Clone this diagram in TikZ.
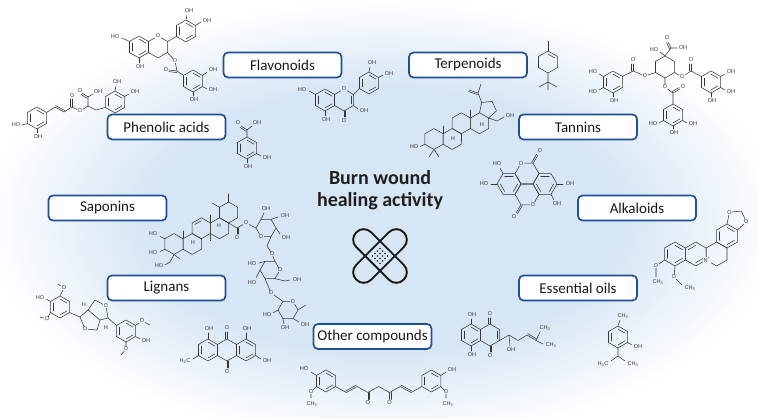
\documentclass[tikz,border=0pt]{standalone}
\usepackage{fontspec}
\setmainfont{Carlito}
\newfontfamily\chemfont{Liberation Sans}
\usetikzlibrary{positioning,calc}

\definecolor{bgblue}{RGB}{215,230,245}
\definecolor{boxblue}{RGB}{30,80,150}
\definecolor{molgray}{RGB}{55,55,55}
\colorlet{vbg}{white}
\pgfdeclareradialshading{bgglow}{\pgfpoint{0bp}{0bp}}{color(0bp)=(bgblue); color(15bp)=(bgblue); color(25bp)=(white); color(50bp)=(white)}

\tikzset{
  mol/.style={draw=molgray, line width=0.55pt, line join=round, line cap=round},
  atm/.style={font=\chemfont\fontsize{5.6}{6}\selectfont, text=molgray, inner sep=0.4pt},
  vatm/.style={atm, fill=vbg},
  cat/.style={draw=boxblue, line width=1.7pt, rounded corners=4.5pt, fill=white, minimum width=118pt, minimum height=25pt, inner sep=2pt, font=\fontsize{15}{17}\selectfont, text=black!90},
  band/.style={draw=black!90, line width=1.9pt, rounded corners=10.3pt},
}

\newcounter{atmno}
\newcommand\atm[3]{\stepcounter{atmno}\node[atm] (at\arabic{atmno}) at (#1,#2) {#3};}
\newcommand\vatm[3]{\stepcounter{atmno}\node[vatm] (at\arabic{atmno}) at (#1,#2) {#3};}
\newcommand\pring[3]{\draw[mol] ([shift={(#1,#2)}]90:#3) \foreach \q in {30,-30,-90,-150,150}{-- ([shift={(#1,#2)}]\q:#3)} -- cycle;}
\newcommand\fring[3]{\draw[mol] ([shift={(#1,#2)}]0:#3) \foreach \q in {60,120,180,240,300}{-- ([shift={(#1,#2)}]\q:#3)} -- cycle;}
\newcommand\parom[3]{\foreach \q in {90,210,330}{\draw[mol] ([shift={(#1,#2)}]\q:0.72*#3) -- ([shift={(#1,#2)}]\q-60:0.72*#3);}}
\newcommand\farom[3]{\foreach \q in {60,180,300}{\draw[mol] ([shift={(#1,#2)}]\q:0.72*#3) -- ([shift={(#1,#2)}]\q-60:0.72*#3);}}
\newcommand\dbond[4]{\draw[mol] (#1,#2) -- (#3,#4) ($(#1,#2)!1.6pt!90:(#3,#4)$) -- ($(#3,#4)!1.6pt!-90:(#1,#2)$);}

\begin{document}
\begin{tikzpicture}[x=1pt,y=-1pt]
\useasboundingbox (0,0) rectangle (758,419);
\shade[shading=bgglow] (383,220) ellipse [x radius=400, y radius=222];

% catechin gallate
\colorlet{vbg}{white}
\pring{139}{47}{11}\parom{139}{47}{11}
\pring{158}{47}{11}
\pring{186}{31}{11}\parom{186}{31}{11}
\pring{193}{81}{11}\parom{193}{81}{11}
\draw[mol] (129.5,41.5) -- (122,38);
\draw[mol] (139,58) -- (139,63);
\draw[mol] (167.5,41.5) -- (176.5,36.5);
\draw[mol] (186,20) -- (187,15);
\draw[mol] (195.5,25.5) -- (201,22);
\draw[mol] (167.5,52.5) -- (175,61) -- (177,71) -- (183.5,75.5);
\dbond{177}{71}{169}{70}
\draw[mol] (202.5,75.5) -- (207,72);
\draw[mol] (202.5,86.5) -- (207,89);
\draw[mol] (193,92) -- (193,96);
\vatm{158}{36}{O}\vatm{175}{61}{O}\atm{166}{70}{O}
\atm{115}{37}{HO}\atm{140}{67}{OH}\atm{189}{11}{OH}\atm{207}{21}{OH}
\atm{213}{70}{OH}\atm{213}{90}{OH}\atm{194}{100}{OH}

% rosmarinic acid
\pring{37}{118}{11}\parom{37}{118}{11}
\pring{115}{102}{11}\parom{115}{102}{11}
\draw[mol] (27.5,123.5) -- (22,125);
\draw[mol] (37,129) -- (37,133);
\draw[mol] (46.5,112.5) -- (55,107);
\dbond{55}{107}{64}{112}
\draw[mol] (64,112) -- (72,107) -- (80,111) -- (88,106) -- (96,110) -- (105.5,107.5);
\dbond{72}{107}{72}{99}
\draw[mol] (88,106) -- (88,97) -- (93,94);
\dbond{88}{97}{82}{93}
\draw[mol] (115,91) -- (116,86);
\draw[mol] (124.5,96.5) -- (129,94);
\vatm{80}{111}{O}\atm{72}{96}{O}\atm{80}{91}{O}\atm{98}{92}{OH}
\atm{16}{125}{HO}\atm{38}{137}{OH}\atm{117}{82}{OH}\atm{135}{92}{OH}

% quercetin
\colorlet{vbg}{bgblue}
\pring{325}{100}{11}\parom{325}{100}{11}
\pring{344}{100}{11}
\draw[mol] ([shift={(344,100)}]30:7.9) -- ([shift={(344,100)}]-30:7.9);
\pring{369}{83}{11}\parom{369}{83}{11}
\draw[mol] (315.5,94.5) -- (309,91);
\draw[mol] (325,111) -- (325,116);
\dbond{344}{111}{344}{117}
\draw[mol] (353.5,105.5) -- (358,109);
\draw[mol] (353.5,94.5) -- (359.5,88.5);
\draw[mol] (369,72) -- (370,67);
\draw[mol] (378.5,77.5) -- (383,75);
\vatm{344}{89}{O}\atm{344}{121}{O}
\atm{302}{90}{HO}\atm{326}{120}{OH}\atm{364}{111}{OH}\atm{372}{63}{OH}\atm{389}{74}{OH}

% protocatechuic acid
\pring{247}{148}{11}\parom{247}{148}{11}
\draw[mol] (247,137) -- (247,130) -- (252,126);
\dbond{247}{130}{241}{126}
\draw[mol] (256.5,153.5) -- (261,156);
\draw[mol] (247,159) -- (247,163);
\atm{238}{123}{O}\atm{257}{123}{OH}\atm{267}{158}{OH}\atm{248}{167}{OH}

% terpinene
\pring{548}{62}{11}
\draw[mol] ([shift={(548,62)}]-90:7.9) -- ([shift={(548,62)}]-30:7.9);
\draw[mol] (548,51) -- (548,41);
\draw[mol] (548,73) -- (548,82) -- (539,87) (548,82) -- (557,87) (548,82) -- (548,90);

% betulin
\pring{434}{139}{10.5}\pring{452.2}{139}{10.5}\pring{461.3}{123.25}{10.5}\pring{479.5}{123.25}{10.5}
\draw[mol] (479.5,112.75) -- (481.7,102.5) -- (492.1,101.4) -- (496.4,111) -- (488.6,118);
\draw[mol] (481.7,102.5) -- (478,93) -- (481,84);
\dbond{478}{93}{469}{90}
\draw[mol] (488.6,118) -- (497,121) -- (504,117);
\draw[mol] (424.9,144.25) -- (420,146.5);
\draw[mol] (434,149.5) -- (429,157) (434,149.5) -- (439,157);
\draw[mol] (443.1,133.75) -- (443.1,126);
\draw[mol] (461.3,133.75) -- (461.3,141);
\draw[mol] (470.4,118) -- (470.4,110);
\atm{510}{116}{OH}\atm{414}{147}{HO}\atm{453}{139}{H}\atm{482}{125}{H}

% tannin
\colorlet{vbg}{white}
\pring{665}{67}{11}
\draw[mol] (665,56) -- (671,48) -- (677,48);
\dbond{671}{48}{668}{42}
\draw[mol] (665,56) -- (660,52);
\draw[mol] (655.5,72.5) -- (645,76) -- (633,71) -- (622.5,76.5);
\dbond{633}{71}{633}{64}
\pring{613}{82}{11}\parom{613}{82}{11}
\draw[mol] (603.5,76.5) -- (599,74);
\draw[mol] (603.5,87.5) -- (599,90);
\draw[mol] (613,93) -- (613,97);
\draw[mol] (674.5,72.5) -- (682,77) -- (691,71) -- (701.5,76.5);
\dbond{691}{71}{691}{64}
\pring{711}{82}{11}\parom{711}{82}{11}
\draw[mol] (720.5,76.5) -- (725,74);
\draw[mol] (720.5,87.5) -- (725,90);
\draw[mol] (711,93) -- (711,97);
\draw[mol] (665,78) -- (665,87) -- (673,93) -- (673,104);
\dbond{673}{93}{680}{89}
\pring{673}{115}{11}\parom{673}{115}{11}
\draw[mol] (663.5,120.5) -- (659,123);
\draw[mol] (682.5,120.5) -- (687,123);
\draw[mol] (673,126) -- (673,129);
\vatm{645}{76}{O}\vatm{682}{77}{O}\vatm{665}{87}{O}
\atm{667}{38}{O}\atm{683}{48}{OH}\atm{654}{50}{HO}\atm{633}{60}{O}\atm{691}{60}{O}\atm{683}{87}{O}
\atm{593}{72}{HO}\atm{593}{92}{HO}\atm{614}{101}{OH}
\atm{731}{72}{OH}\atm{731}{92}{OH}\atm{712}{101}{OH}
\atm{653}{124}{HO}\atm{693}{124}{OH}\atm{674}{133}{OH}

% ellagic acid
\colorlet{vbg}{bgblue}
\fring{509}{184}{12}\farom{509}{184}{12}
\fring{527}{173.6}{12}
\fring{545}{184}{12}\farom{545}{184}{12}
\fring{527}{194.4}{12}
\dbond{533}{163.2}{538}{155}
\dbond{521}{204.8}{516}{213}
\draw[mol] (503,173.6) -- (500,168);
\draw[mol] (497,184) -- (491,184);
\draw[mol] (557,184) -- (563,184);
\draw[mol] (551,194.4) -- (554,200);
\vatm{521}{163.2}{O}\vatm{533}{204.8}{O}
\atm{540}{151}{O}\atm{514}{217}{O}
\atm{497}{164}{HO}\atm{484}{184}{HO}\atm{570}{184}{OH}\atm{557}{204}{OH}

% berberine
\colorlet{vbg}{bgblue!42!white}
\pring{675}{254}{12}\parom{675}{254}{12}
\pring{695.8}{254}{12}
\draw[mol] ([shift={(695.8,254)}]-90:8.6) -- ([shift={(695.8,254)}]-150:8.6);
\draw[mol] ([shift={(695.8,254)}]90:8.6) -- ([shift={(695.8,254)}]30:8.6);
\pring{716.6}{254}{12}
\pring{727}{236}{12}\parom{727}{236}{12}
\draw[mol] (727,224) -- (729.5,212.3) -- (741.4,211) -- (746.3,222) -- (737.4,230);
\draw[mol] (664.6,260) -- (656,266) -- (656,277);
\draw[mol] (675,266) -- (674,277) -- (682,285);
\vatm{729.5}{212.3}{O}\vatm{746.3}{222}{O}
\vatm{707}{260}{N\textsuperscript{+}}
\vatm{656}{266}{O}\vatm{674}{277}{O}
\atm{658}{282}{CH\textsubscript{3}}\atm{690}{288}{CH\textsubscript{3}}

% asiaticoside
\colorlet{vbg}{bgblue}
\pring{174}{244}{10.5}\pring{192.2}{244}{10.5}\pring{201.3}{228.25}{10.5}\pring{219.5}{228.25}{10.5}\pring{228.6}{212.5}{10.5}
\draw[mol] ([shift={(201.3,228.25)}]-90:7.5) -- ([shift={(201.3,228.25)}]-150:7.5);
\draw[mol] (164.9,238.75) -- (160,236.5);
\draw[mol] (164.9,249.25) -- (160,251.5);
\draw[mol] (174,254.5) -- (170,262) -- (165,265);
\draw[mol] (174,254.5) -- (180,259);
\draw[mol] (183.1,238.75) -- (183.1,231);
\draw[mol, dash pattern=on 0.8pt off 0.8pt] (210.4,233.5) -- (210.4,241);
\draw[mol] (210.4,223) -- (210.4,215);
\draw[mol] (219.5,207.25) -- (212,203);
\draw[mol] (228.6,202) -- (228.6,194);
\draw[mol] (228.6,223) -- (237,228) -- (246,223) -- (256,228);
\dbond{237}{228}{237}{234}
\fring{266}{228}{10}
\draw[mol] (261,219.34) -- (264,213);
\draw[mol] (271,219.34) -- (278,217);
\draw[mol] (276,228) -- (280,234);
\draw[mol] (271,236.66) -- (267,246) -- (272,254) -- (275,261.34);
\fring{270}{270}{10}
\draw[mol] (265,261.34) -- (259,263);
\draw[mol] (260,270) -- (256,278);
\draw[mol] (275,278.66) -- (285,281) -- (290,280);
\draw[mol] (265,278.66) -- (271,293) -- (283,301.34);
\fring{288}{310}{10}
\draw[mol] (298,310) -- (306,305);
\draw[mol] (293,318.66) -- (299,322);
\draw[mol] (283,318.66) -- (284,324);
\draw[mol] (278,310) -- (273,313);
\vatm{246}{223}{O}\vatm{261}{236.66}{O}\vatm{272}{254}{O}\vatm{280}{270}{O}\vatm{271}{293}{O}\vatm{293}{301.34}{O}
\atm{153}{234}{HO}\atm{153}{253}{HO}\atm{159}{266}{HO}\atm{193}{243}{H}\atm{219}{226}{H}
\atm{237}{238}{O}\atm{266}{209}{OH}\atm{285}{216}{OH}\atm{286}{238}{OH}
\atm{252}{264}{HO}\atm{252}{283}{HO}\atm{297}{280}{OH}
\atm{305}{325}{OH}\atm{285}{328}{OH}\atm{267}{315}{HO}

% syringaresinol
\colorlet{vbg}{bgblue!35!white}
\pring{60}{307}{11}\parom{60}{307}{11}
\draw[mol] (60,296) -- (64,288) -- (58,284);
\draw[mol] (50.5,301.5) -- (46,299);
\draw[mol] (50.5,312.5) -- (47,319) -- (40,317);
\draw[mol] (69.5,312.5) -- (80,317);
\draw[mol] (80,317) -- (88,310) -- (100,320) -- (108,318);
\draw[mol] (80,317) -- (85,329) -- (97,330) -- (100,320);
\draw[mol] (88,310) -- (95,300) -- (106,306) -- (108,318);
\draw[mol] (108,318) -- (116.5,325.5);
\pring{126}{331}{11}\parom{126}{331}{11}
\draw[mol] (135.5,325.5) -- (142,321) -- (150,325);
\draw[mol] (135.5,336.5) -- (140,339);
\draw[mol] (126,342) -- (126,349) -- (121,355);
\vatm{64}{288}{O}\vatm{47}{319}{O}\vatm{85}{329}{O}\vatm{106}{306}{O}\vatm{142}{321}{O}\vatm{126}{349}{O}
\atm{40}{298}{HO}\atm{84}{305}{H}\atm{106}{328}{H}\atm{146}{341}{OH}

% emodin
\pring{208}{350}{11}\parom{208}{350}{11}
\pring{227}{350}{11}
\pring{246}{350}{11}\parom{246}{350}{11}
\dbond{227}{339}{227}{332}
\dbond{227}{361}{227}{368}
\draw[mol] (208,339) -- (208,333);
\draw[mol] (246,339) -- (246,333);
\draw[mol] (198.5,355.5) -- (193,359);
\draw[mol] (255.5,355.5) -- (261,359);
\atm{227}{328}{O}\atm{227}{372}{O}\atm{209}{329}{OH}\atm{247}{329}{OH}
\atm{185}{361}{H\textsubscript{3}C}\atm{267}{361}{OH}

% curcumin
\colorlet{vbg}{bgblue!42!white}
\pring{326}{381}{11}\parom{326}{381}{11}
\draw[mol] (316.5,375.5) -- (311,372);
\draw[mol] (316.5,386.5) -- (311,392) -- (311,398);
\draw[mol] (335.5,386.5) -- (346.3,392.5);
\dbond{346.3}{392.5}{357.1}{386.5}
\draw[mol] (357.1,386.5) -- (367.9,392.5) -- (378.7,386.5) -- (389.5,392.5) -- (400.3,386.5);
\dbond{367.9}{392.5}{367.9}{399.5}
\dbond{389.5}{392.5}{389.5}{399.5}
\dbond{400.3}{386.5}{411.1}{392.5}
\draw[mol] (411.1,392.5) -- (421.9,386.5);
\pring{431.4}{381}{11}\parom{431.4}{381}{11}
\draw[mol] (440.9,375.5) -- (446,372);
\draw[mol] (440.9,386.5) -- (446,392) -- (446,398);
\vatm{311}{392}{O}\vatm{446}{392}{O}
\atm{304}{369}{HO}\atm{312}{404}{CH\textsubscript{3}}\atm{367.9}{403}{O}\atm{389.5}{403}{O}
\atm{452}{370}{OH}\atm{448}{404}{CH\textsubscript{3}}

% shikonin
\pring{471}{335}{11}\parom{471}{335}{11}
\pring{490}{335}{11}
\draw[mol] ([shift={(490,335)}]-30:7.9) -- ([shift={(490,335)}]30:7.9);
\draw[mol] (471,324) -- (471,319);
\draw[mol] (471,346) -- (471,351);
\dbond{490}{324}{490}{318}
\dbond{490}{346}{490}{352}
\draw[mol] (499.5,340.5) -- (509,335) -- (518,340.5) -- (527,335);
\dbond{527}{335}{536}{340.5}
\draw[mol] (509,335) -- (510,346);
\draw[mol] (536,340.5) -- (540,332);
\draw[mol] (536,340.5) -- (543,344);
\atm{472}{315}{OH}\atm{472}{355}{OH}\atm{490}{314}{O}\atm{490}{356}{O}
\atm{511}{350}{OH}\atm{545}{328}{CH\textsubscript{3}}\atm{551}{345}{CH\textsubscript{3}}

% thymol
\pring{618}{337}{11}\parom{618}{337}{11}
\draw[mol] (618,326) -- (620,320);
\draw[mol] (627.5,342.5) -- (632,345);
\draw[mol] (618,348) -- (618,356) -- (611,361) (618,356) -- (625,361);
\atm{623}{316}{CH\textsubscript{3}}\atm{638}{347}{OH}
\atm{603}{364}{H\textsubscript{3}C}\atm{633}{364}{CH\textsubscript{3}}

% centre
\node[font=\bfseries\fontsize{20}{22}\selectfont, align=center, text=black!88] (title) at (380,190) {Burn wound\\healing activity};
\begin{scope}[shift={(380,256)}]
  \draw[band, rotate=45] (-33.5,-10.5) rectangle (33.5,10.5);
  \draw[band, rotate=-45] (-33.5,-10.5) rectangle (33.5,10.5);
  \foreach \i in {-1.5,-0.5,0.5,1.5}
    \foreach \j in {-1.5,-0.5,0.5,1.5}
      \fill[black!90] ({(\i+\j)*3.5*cos(45)},{(\i-\j)*3.5*sin(45)}) circle (0.85);
\end{scope}

% classes
\node[cat] (flav) at (282.5,65) {Flavonoids};
\node[cat] (phen) at (166.5,127) {Phenolic acids};
\node[cat] (terp) at (468,65) {Terpenoids};
\node[cat] (tann) at (578,127) {Tannins};
\node[cat] (sapo) at (107.5,208) {Saponins};
\node[cat] (alka) at (637,208) {Alkaloids};
\node[cat] (lign) at (166.5,288) {Lignans};
\node[cat] (esso) at (578,288) {Essential oils};
\node[cat] (othe) at (372.5,336.5) {Other compounds};
\end{tikzpicture}
\end{document}
